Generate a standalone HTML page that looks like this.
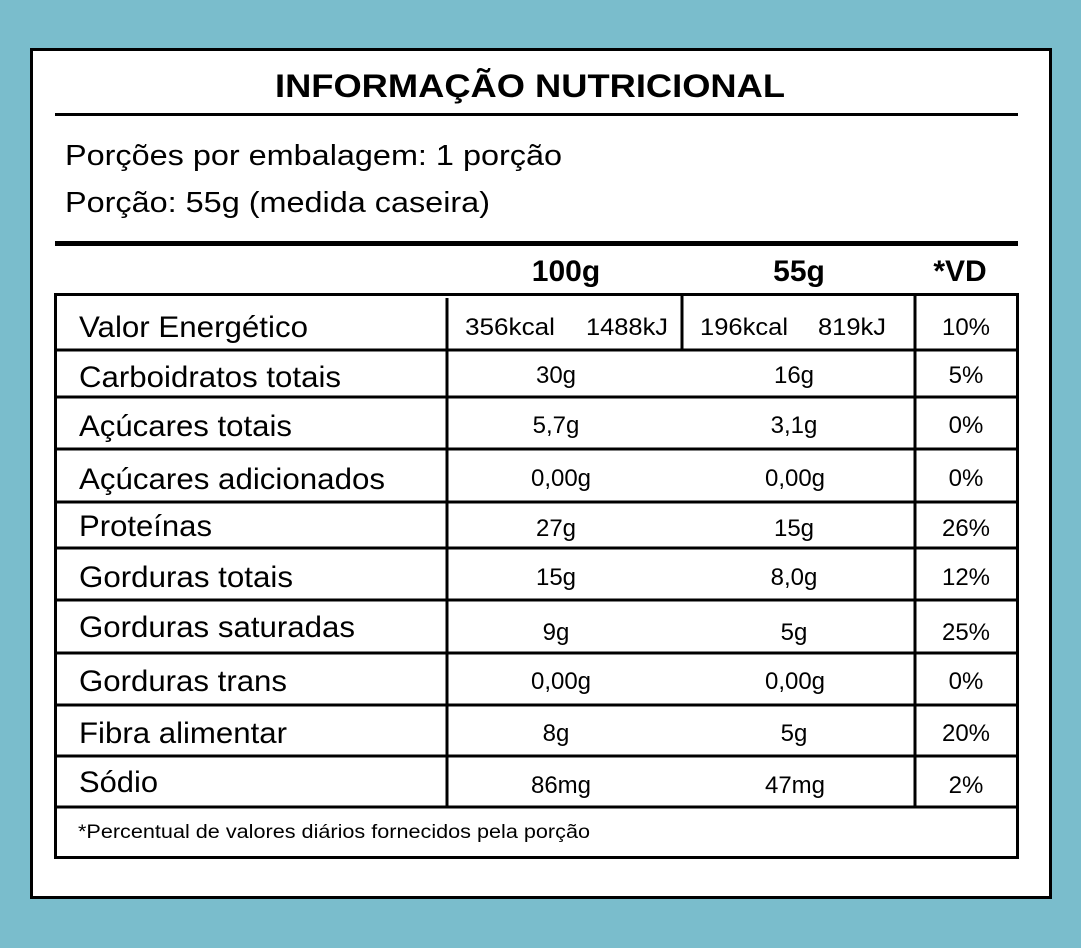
<!DOCTYPE html>
<html><head><meta charset="utf-8"><style>
html,body{margin:0;padding:0;background:#7abdcc;}
svg{display:block;}
text{font-family:"Liberation Sans",Arial,sans-serif;fill:#000;}
.l{font-size:30px;}
.v{font-size:24px;text-anchor:middle;}
.h{font-size:30px;font-weight:bold;text-anchor:middle;}
</style></head><body>
<svg width="1081" height="948" viewBox="0 0 1081 948" xmlns="http://www.w3.org/2000/svg">
<rect x="0" y="0" width="1081" height="948" fill="#7abdcc"/>
<rect x="31.5" y="49.5" width="1019" height="848" fill="#fff" stroke="#000" stroke-width="3"/>
<text x="275" y="97" font-size="32" font-weight="bold" textLength="510" lengthAdjust="spacingAndGlyphs">INFORMAÇÃO NUTRICIONAL</text>
<rect x="55" y="113" width="963" height="3" fill="#000"/>
<text x="65" y="165" font-size="29" textLength="497" lengthAdjust="spacingAndGlyphs">Porções por embalagem: 1 porção</text>
<text x="65" y="212" font-size="29" textLength="425" lengthAdjust="spacingAndGlyphs">Porção: 55g (medida caseira)</text>
<rect x="55" y="241" width="963" height="5" fill="#000"/>
<text class="h" x="566" y="281">100g</text>
<text class="h" x="799" y="281">55g</text>
<text class="h" x="960" y="281">*VD</text>
<g stroke="#000" stroke-width="3" fill="none">
<rect x="55.5" y="294.5" width="962" height="563"/>
<line x1="55" y1="350" x2="1018" y2="350"/>
<line x1="55" y1="397" x2="1018" y2="397"/>
<line x1="55" y1="449" x2="1018" y2="449"/>
<line x1="55" y1="502" x2="1018" y2="502"/>
<line x1="55" y1="548" x2="1018" y2="548"/>
<line x1="55" y1="600" x2="1018" y2="600"/>
<line x1="55" y1="653" x2="1018" y2="653"/>
<line x1="55" y1="705" x2="1018" y2="705"/>
<line x1="55" y1="756" x2="1018" y2="756"/>
<line x1="55" y1="807" x2="1018" y2="807"/>
<line x1="447" y1="298" x2="447" y2="807"/>
<line x1="682" y1="294" x2="682" y2="350"/>
<line x1="915" y1="296" x2="915" y2="807"/>
</g>
<text class="l" x="79" y="337" textLength="229" lengthAdjust="spacingAndGlyphs">Valor Energético</text>
<text class="l" x="79" y="387" textLength="262" lengthAdjust="spacingAndGlyphs">Carboidratos totais</text>
<text class="l" x="79" y="436" textLength="213" lengthAdjust="spacingAndGlyphs">Açúcares totais</text>
<text class="l" x="79" y="489" textLength="306" lengthAdjust="spacingAndGlyphs">Açúcares adicionados</text>
<text class="l" x="79" y="536" textLength="133" lengthAdjust="spacingAndGlyphs">Proteínas</text>
<text class="l" x="79" y="587" textLength="214" lengthAdjust="spacingAndGlyphs">Gorduras totais</text>
<text class="l" x="79" y="637" textLength="276" lengthAdjust="spacingAndGlyphs">Gorduras saturadas</text>
<text class="l" x="79" y="691" textLength="208" lengthAdjust="spacingAndGlyphs">Gorduras trans</text>
<text class="l" x="79" y="743" textLength="208" lengthAdjust="spacingAndGlyphs">Fibra alimentar</text>
<text class="l" x="79" y="792" textLength="79" lengthAdjust="spacingAndGlyphs">Sódio</text>
<text x="465" y="335" font-size="24" textLength="90" lengthAdjust="spacingAndGlyphs">356kcal</text>
<text x="586" y="335" font-size="24" textLength="82" lengthAdjust="spacingAndGlyphs">1488kJ</text>
<text x="700" y="335" font-size="24" textLength="88" lengthAdjust="spacingAndGlyphs">196kcal</text>
<text x="818" y="335" font-size="24" textLength="68" lengthAdjust="spacingAndGlyphs">819kJ</text>
<text class="v" x="966" y="335">10%</text>
<text class="v" x="556" y="383">30g</text><text class="v" x="794" y="383">16g</text><text class="v" x="966" y="383">5%</text>
<text class="v" x="556" y="433">5,7g</text><text class="v" x="794" y="433">3,1g</text><text class="v" x="966" y="433">0%</text>
<text class="v" x="561" y="486">0,00g</text><text class="v" x="795" y="486">0,00g</text><text class="v" x="966" y="486">0%</text>
<text class="v" x="556" y="536">27g</text><text class="v" x="794" y="536">15g</text><text class="v" x="966" y="536">26%</text>
<text class="v" x="556" y="585">15g</text><text class="v" x="794" y="585">8,0g</text><text class="v" x="966" y="585">12%</text>
<text class="v" x="556" y="640">9g</text><text class="v" x="794" y="640">5g</text><text class="v" x="966" y="640">25%</text>
<text class="v" x="561" y="689">0,00g</text><text class="v" x="795" y="689">0,00g</text><text class="v" x="966" y="689">0%</text>
<text class="v" x="556" y="741">8g</text><text class="v" x="794" y="741">5g</text><text class="v" x="966" y="741">20%</text>
<text class="v" x="561" y="793">86mg</text><text class="v" x="795" y="793">47mg</text><text class="v" x="966" y="793">2%</text>
<text x="78" y="838" font-size="19" textLength="512" lengthAdjust="spacingAndGlyphs">*Percentual de valores diários fornecidos pela porção</text>
</svg>
</body></html>
